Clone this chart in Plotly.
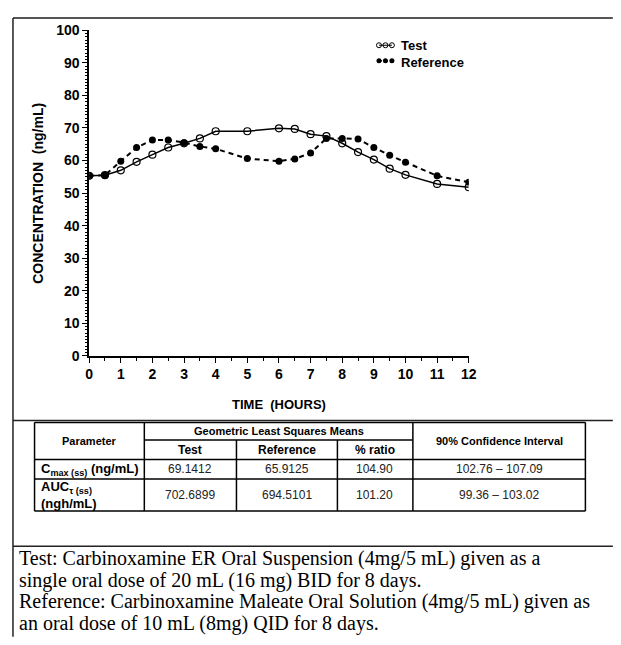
import plotly.graph_objects as go

# ---------------- data ----------------
time_test = [0, 0.5, 1, 1.5, 2, 2.5, 3, 3.5, 4, 5, 6, 6.5, 7, 7.5, 8, 8.5, 9, 9.5, 10, 11, 12]
conc_test = [55.3, 55.5, 57.0, 59.6, 61.8, 64.0, 65.3, 66.8, 69.0, 69.0, 69.9, 69.7, 68.1, 67.5,
             65.3, 62.6, 60.3, 57.5, 55.6, 52.8, 51.8]
time_ref = [0, 0.5, 1, 1.5, 2, 2.5, 3, 3.5, 4, 5, 6, 6.5, 7, 7.5, 8, 8.5, 9, 9.5, 10, 11, 12]
conc_ref = [55.3, 55.5, 59.8, 64.0, 66.3, 66.3, 65.5, 64.3, 63.6, 60.6, 59.8, 60.5, 62.3, 66.8,
            66.8, 66.6, 64.0, 61.6, 59.5, 55.3, 53.3]

x_ticks = list(range(0, 13))
y_ticks = list(range(0, 101, 10))

table_header_top = ["Parameter", "Geometric Least Squares Means", "90% Confidence Interval"]
table_header_sub = ["Test", "Reference", "% ratio"]
row_labels = ["C<sub>max (ss)</sub> (ng/mL)", "AUC<sub>τ (ss)</sub><br>(ngh/mL)"]
col_test = ["69.1412", "702.6899"]
col_ref = ["65.9125", "694.5101"]
col_ratio = ["104.90", "101.20"]
col_ci = ["102.76 – 107.09", "99.36 – 103.02"]

footnote = [
    "Test: Carbinoxamine ER Oral Suspension (4mg/5 mL) given as a",
    "single oral dose of 20 mL (16 mg) BID for 8 days.",
    "Reference: Carbinoxamine Maleate Oral Solution (4mg/5 mL) given as",
    "an oral dose of 10 mL (8mg) QID for 8 days.",
]

# page body has an 8px margin: size the figure so it fits the window without scrolling
OFF = 8
W, H = 621 - 2 * OFF, 645 - 2 * OFF
def px(x):
    return (x - OFF) / W
def py(y):
    return 1 - (y - OFF) / H

BOLD = "Liberation Sans Narrow, Arial Narrow, Liberation Sans, Arial"

fig = go.Figure()
fig.add_trace(go.Scatter(x=time_test, y=conc_test, mode="lines+markers", name="Test",
                         line=dict(color="black", width=1.5),
                         marker=dict(symbol="circle-open", size=7, color="black",
                                     line=dict(width=1.2, color="black")),
                         showlegend=False))
fig.add_trace(go.Scatter(x=time_ref, y=conc_ref, mode="lines+markers", name="Reference",
                         line=dict(color="black", width=2, dash="5px,4px"),
                         marker=dict(symbol="circle", size=7, color="black"),
                         showlegend=False))

# custom legend (three-marker glyphs) on an overlay axis
leg_x = [0.2, 0.5, 0.8]
fig.add_trace(go.Scatter(x=leg_x, y=[0.75] * 3, xaxis="x2", yaxis="y2", mode="lines+markers",
                         line=dict(color="black", width=1),
                         marker=dict(symbol="circle-open", size=5, color="black", line=dict(width=1)),
                         showlegend=False, hoverinfo="skip"))
fig.add_trace(go.Scatter(x=leg_x, y=[0.25] * 3, xaxis="x2", yaxis="y2", mode="lines+markers",
                         line=dict(color="black", width=1.5, dash="dot"),
                         marker=dict(symbol="circle", size=5, color="black"),
                         showlegend=False, hoverinfo="skip"))

tickfont = dict(family=BOLD, size=14, color="black", weight="bold")
fig.update_layout(
    width=W, height=H, margin=dict(l=0, r=0, t=0, b=0),
    paper_bgcolor="white", plot_bgcolor="white",
    xaxis=dict(domain=[px(86.7), px(474)], range=[0, 12], tickvals=x_ticks,
               showline=True, linecolor="black", linewidth=1.5, showgrid=False, zeroline=False,
               ticks="outside", ticklen=5, tickwidth=1.2, tickcolor="black",
               minor=dict(dtick=0.5, ticks="outside", ticklen=3, tickcolor="black", tickwidth=1),
               tickfont=tickfont, fixedrange=True),
    yaxis=dict(domain=[py(356.7), py(22.7)], range=[0, 100], tickvals=y_ticks,
               showline=True, linecolor="black", linewidth=1.5, showgrid=False, zeroline=False,
               ticks="outside", ticklen=5, tickwidth=1.2, tickcolor="black",
               minor=dict(dtick=1, ticks="outside", ticklen=2, tickcolor="black", tickwidth=1),
               tickfont=tickfont, fixedrange=True),
    xaxis2=dict(domain=[px(378), px(400)], range=[0, 1], visible=False, anchor="y2"),
    yaxis2=dict(domain=[py(62), py(30)], range=[0, 1], visible=False, anchor="x2"),
)

ann = []
ann.append(dict(text="TIME  (HOURS)", x=px(280), y=py(407), xref="paper", yref="paper",
                showarrow=False, font=dict(family=BOLD, size=13, color="black", weight="bold"),
                xanchor="center", yanchor="middle"))
ann.append(dict(text="CONCENTRATION  (ng/mL)", x=px(35), y=py(190), xref="paper", yref="paper",
                showarrow=False, textangle=-90,
                font=dict(family=BOLD, size=14, color="black", weight="bold"),
                xanchor="center", yanchor="middle"))
ann.append(dict(text="Test", x=px(403), y=py(38), xref="paper", yref="paper", showarrow=False,
                font=dict(family=BOLD, size=13, color="black", weight="bold"),
                xanchor="left", yanchor="middle"))
ann.append(dict(text="Reference", x=px(403), y=py(56), xref="paper", yref="paper", showarrow=False,
                font=dict(family=BOLD, size=13, color="black", weight="bold"),
                xanchor="left", yanchor="middle"))

shapes = []
def line(x0, y0, x1, y1, w=1.5, c="black"):
    shapes.append(dict(type="line", xref="paper", yref="paper", x0=px(x0), y0=py(y0),
                       x1=px(x1), y1=py(y1), line=dict(color=c, width=w)))

# frame
line(9, 10, 621, 10, 2, "#555555")
line(9, 10, 9, 645, 1.5, "#222222")
line(9, 423, 621, 423, 1.5, "#222222")
line(9, 552, 621, 552, 1.5, "#222222")

# table grid
tl, tr, tt, tb = 31, 593, 425, 516
line(tl, tt, tr, tt)
line(tl, tt, tl, tb)
line(tr, tt, tr, tb)
line(tl, tb, tr, tb)
line(143, tt, 143, tb)
line(417, tt, 417, tb)
line(237, 443, 237, tb)
line(340, 443, 340, tb)
line(143, 443, 417, 443)
line(tl, 463, tr, 463)
line(tl, 483, tr, 483)

hfont = dict(family="Liberation Sans, Arial", size=11, color="black", weight="bold")
vfont = dict(family="Liberation Sans, Arial", size=12, color="#222222")
lfont = dict(family="Liberation Sans, Arial", size=13, color="black", weight="bold")

def t(text, x, y, font, xanchor="center"):
    ann.append(dict(text=text, x=px(x), y=py(y), xref="paper", yref="paper", showarrow=False,
                    font=font, xanchor=xanchor, yanchor="middle", align="left"))

t(table_header_top[0], 87, 444, hfont)
t(table_header_top[1], 280, 434, hfont)
t(table_header_top[2], 505, 444, hfont)
sub_x = [190, 289, 378]
for s, xx in zip(table_header_sub, sub_x):
    t(s, xx, 453, dict(hfont, size=12))
row_y = [473, 500]
for i, yy in enumerate(row_y):
    t(row_labels[i], 36, yy, lfont, "left")
    t(col_test[i], 190, yy, vfont)
    t(col_ref[i], 289, yy, vfont)
    t(col_ratio[i], 378, yy, vfont)
    t(col_ci[i], 505, yy, vfont)

ffont = dict(family="Liberation Serif, Times New Roman", size=20, color="black")
for i, s in enumerate(footnote):
    t(s, 13, 565 + 22 * i, ffont, "left")

fig.update_layout(annotations=ann, shapes=shapes)
fig.write_html("out.html")
